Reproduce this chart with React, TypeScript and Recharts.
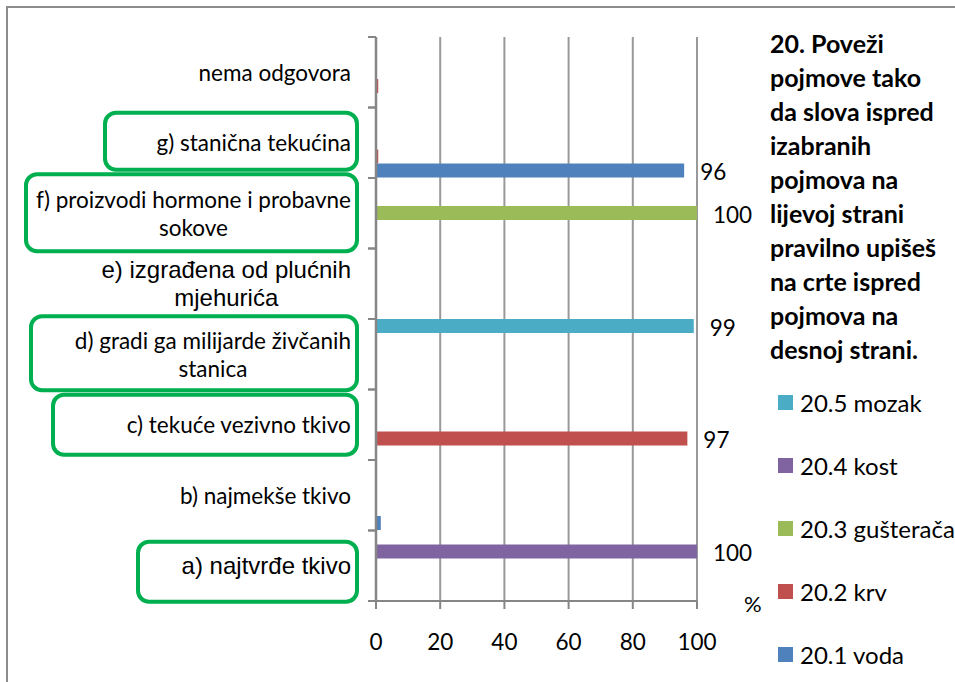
import React from 'react';
import { BarChart, Bar, XAxis, YAxis, CartesianGrid, LabelList } from 'recharts';

// categories top to bottom, "\n" marks the line break of the axis label
const categories = [
    'nema odgovora',
    'g) stanična tekućina',
    'f) proizvodi hormone i probavne\nsokove',
    'e) izgrađena od plućnih\nmjehurića',
    'd) gradi ga milijarde živčanih\nstanica',
    'c) tekuće vezivno tkivo',
    'b) najmekše tkivo',
    'a) najtvrđe tkivo',
];

// percentages per category (same order as categories)
const voda = [0, 96, 0, 0, 0, 0, 1.5, 0];
const krv = [0.7, 0.7, 0, 0, 0, 97, 0, 0];
const gusteraca = [0, 0, 100, 0, 0, 0, 0, 0];
const kost = [0, 0, 0, 0, 0, 0, 0, 100];
const mozak = [0, 0, 0, 0, 99, 0, 0, 0];

const xTicks = [0, 20, 40, 60, 80, 100];

const titleLines = [
    '20. Poveži',
    'pojmove tako',
    'da slova ispred',
    'izabranih',
    'pojmova na',
    'lijevoj strani',
    'pravilno upišeš',
    'na crte ispred',
    'pojmova na',
    'desnoj strani.',
];

const series = [
    { key: 'mozak', name: '20.5 mozak', color: '#4BACC6' },
    { key: 'kost', name: '20.4 kost', color: '#8064A2' },
    { key: 'gusteraca', name: '20.3 gušterača', color: '#9BBB59' },
    { key: 'krv', name: '20.2 krv', color: '#C0504D' },
    { key: 'voda', name: '20.1 voda', color: '#4F81BD' },
];

const data = categories.map((c, i) => ({
    category: c,
    voda: voda[i],
    krv: krv[i],
    gusteraca: gusteraca[i],
    kost: kost[i],
    mozak: mozak[i],
}));

// layout
const W = 955;
const H = 682;
const AXIS_X = 376;
const PLOT_TOP = 37;
const PLOT_BOTTOM = 601;
const HALF_BAND = (PLOT_BOTTOM - PLOT_TOP) / categories.length / 2;
const LABEL_RIGHT = 351;
const AXIS_COLOR = '#868686';
const FONT = 'Lato, sans-serif';
const ARIAL = '"Liberation Sans", Arial, sans-serif';

// labels typed in another font in the original slide
const arialLabels = new Set([categories[3], categories[7]]);

// hand drawn green frames around some labels, relative to the tick centre
const frames: Record<number, { left: number; top: number; bottom: number }> = {
    1: { left: 105, top: -30, bottom: 27 },
    2: { left: 26, top: -39, bottom: 38 },
    4: { left: 31, top: -38, bottom: 36 },
    5: { left: 53, top: -30, bottom: 30 },
    7: { left: 138, top: -24, bottom: 36 },
};

let ctx: CanvasRenderingContext2D | null = null;
const measure = (text: string, font: string) => {
    if (!ctx) ctx = document.createElement('canvas').getContext('2d');
    if (!ctx) return text.length * 10;
    ctx.font = font;
    return ctx.measureText(text).width;
};

const CategoryTick = ({ y, payload }: any) => {
    const label = String(payload.value);
    const idx = categories.indexOf(label);
    const lines = label.split('\n');
    const arial = arialLabels.has(label);
    const size = arial ? 24 : 22.5;
    const family = arial ? ARIAL : FONT;
    const maxW = Math.max(...lines.map((l) => measure(l, `${size}px ${family}`)));
    const cx = LABEL_RIGHT - maxW / 2;
    const lh = 28;
    const y0 = y - ((lines.length - 1) * lh) / 2;
    const f = frames[idx];
    return (
        <g>
            <line x1={AXIS_X - 8} x2={AXIS_X} y1={y - HALF_BAND} y2={y - HALF_BAND} stroke={AXIS_COLOR} strokeWidth={2} />
            <line x1={AXIS_X - 8} x2={AXIS_X} y1={y + HALF_BAND} y2={y + HALF_BAND} stroke={AXIS_COLOR} strokeWidth={2} />
            {f && (
                <rect
                    x={f.left}
                    y={y + f.top}
                    width={357 - f.left}
                    height={f.bottom - f.top}
                    rx={11}
                    fill="none"
                    stroke="#00B050"
                    strokeWidth={4}
                />
            )}
            {lines.map((l, i) => (
                <text
                    key={i}
                    x={cx}
                    y={y0 + i * lh}
                    textAnchor="middle"
                    dominantBaseline="central"
                    style={{ fontFamily: family, fontSize: size }}
                    fill="#000"
                >
                    {l}
                </text>
            ))}
        </g>
    );
};

const ValueLabel = ({ x, y, width, height, value }: any) => {
    if (value < 50) return null;
    return (
        <text
            x={x + width + 16}
            y={y + height / 2 + 1}
            dominantBaseline="central"
            fontFamily={FONT}
            fontSize={22.5}
            fill="#000"
        >
            {value}
        </text>
    );
};

const App = () => {
    return (
        <div style={{ position: 'absolute', left: 0, top: 0, width: W, height: H, overflow: 'hidden', background: '#fff' }}>
            <div
                style={{
                    position: 'absolute',
                    left: 6,
                    top: 6,
                    width: 1200,
                    height: 1200,
                    border: '2px solid #8c8c8c',
                }}
            />
            <div style={{ position: 'absolute', left: 0, top: 0 }}>
                <BarChart
                    width={W}
                    height={H}
                    data={data}
                    layout="vertical"
                    margin={{ top: PLOT_TOP, right: W - 697, bottom: 0, left: 0 }}
                    barCategoryGap={0}
                    barGap={0}
                >
                    <CartesianGrid horizontal={false} stroke="#999" strokeWidth={2} />
                    <XAxis
                        type="number"
                        domain={[0, 100]}
                        ticks={xTicks}
                        height={H - PLOT_BOTTOM}
                        axisLine={{ stroke: AXIS_COLOR, strokeWidth: 2 }}
                        tickLine={{ stroke: AXIS_COLOR, strokeWidth: 2 }}
                        tickSize={8}
                        tickMargin={25}
                        tick={{ fontFamily: FONT, fontSize: 22.5, fill: '#000' }}
                        interval={0}
                    />
                    <YAxis
                        type="category"
                        dataKey="category"
                        width={AXIS_X}
                        axisLine={{ stroke: AXIS_COLOR, strokeWidth: 2.5 }}
                        tickLine={false}
                        tick={<CategoryTick />}
                        interval={0}
                    />
                    {series.map((s) => (
                        <Bar key={s.key} dataKey={s.key} name={s.name} fill={s.color} isAnimationActive={false}>
                            <LabelList dataKey={s.key} content={<ValueLabel />} />
                        </Bar>
                    ))}
                </BarChart>
            </div>
            <div style={{ position: 'absolute', left: 778, top: 371, fontFamily: FONT, fontSize: 24, color: '#000' }}>
                {series.map((s) => (
                    <div key={s.key} style={{ display: 'flex', alignItems: 'center', height: 63 }}>
                        <span style={{ width: 15, height: 15, background: s.color, marginRight: 7, display: 'inline-block' }} />
                        <span style={{ whiteSpace: 'nowrap' }}>{s.name}</span>
                    </div>
                ))}
            </div>
            <div
                style={{
                    position: 'absolute',
                    left: 744,
                    top: 590,
                    fontFamily: FONT,
                    fontSize: 22,
                    color: '#000',
                }}
            >
                %
            </div>
            <div
                style={{
                    position: 'absolute',
                    left: 770,
                    top: 26,
                    fontFamily: FONT,
                    fontWeight: 700,
                    fontSize: 25,
                    lineHeight: '34px',
                    color: '#000',
                    whiteSpace: 'nowrap',
                }}
            >
                {titleLines.map((l, i) => (
                    <div key={i}>{l}</div>
                ))}
            </div>
        </div>
    );
};

export default App;
